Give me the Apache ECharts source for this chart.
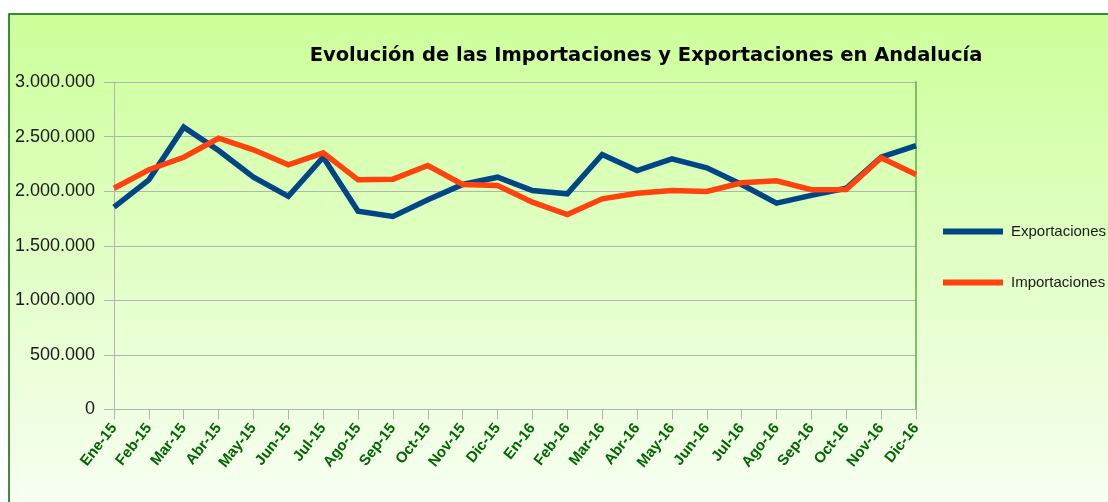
<!DOCTYPE html>
<html>
<head>
<meta charset="utf-8">
<script src="https://cdn.jsdelivr.net/npm/echarts@6/dist/echarts.min.js"></script>
<style>
html,body{margin:0;padding:0;background:#fff;}
#c{width:1108px;height:502px;}
</style>
</head>
<body>
<div id="c"></div>
<script>
const categories = ['Ene-15','Feb-15','Mar-15','Abr-15','May-15','Jun-15','Jul-15','Ago-15','Sep-15','Oct-15','Nov-15','Dic-15','En-16','Feb-16','Mar-16','Abr-16','May-16','Jun-16','Jul-16','Ago-16','Sep-16','Oct-16','Nov-16','Dic-16'];
const exportaciones = [1854000,2104000,2586000,2372000,2128000,1952000,2311000,1817000,1769000,1921000,2061000,2128000,2006000,1976000,2336000,2189000,2296000,2214000,2061000,1890000,1961000,2027000,2311000,2418000];
const importaciones = [2027000,2196000,2311000,2485000,2379000,2242000,2351000,2104000,2110000,2235000,2061000,2052000,1899000,1786000,1930000,1980000,2006000,1997000,2077000,2095000,2013000,2015000,2306000,2153000];
const yTicks = {min: 0, max: 3000000, interval: 500000};
const titleText = 'Evolución de las Importaciones y Exportaciones en Andalucía';

function fmt(v){ return String(v).replace(/\B(?=(\d{3})+(?!\d))/g, '.'); }

const chart = echarts.init(document.getElementById('c'), null, {renderer:'canvas'});
chart.setOption({
  animation: false,
  backgroundColor: '#ffffff',
  graphic: [{
    type: 'rect', z: -100, silent: true,
    shape: {x: 9, y: 14, width: 1105, height: 495},
    style: {
      fill: new echarts.graphic.LinearGradient(0,0,0,1,[
        {offset:0,color:'#ccff99'},
        {offset:1,color:'#f8fff3'}
      ]),
      stroke: '#006600', lineWidth: 1.5
    }
  }],
  title: {
    text: titleText,
    left: 641, top: 41, textAlign: 'center',
    textStyle: {fontFamily:'DejaVu Sans', fontWeight:'bold', fontSize:19.5, color:'#000'}
  },
  legend: {
    orient: 'vertical', left: 938, top: 219,
    itemWidth: 60, itemHeight: 6, itemGap: 36,
    icon: 'rect',
    textStyle: {fontFamily:'Liberation Sans', fontSize:15, color:'#1a1a1a', padding:[0,0,0,3]},
    data: ['Exportaciones','Importaciones']
  },
  grid: {left: 114, right: 192, top: 82, bottom: 92.5, containLabel: false},
  xAxis: {
    type: 'category', data: categories, boundaryGap: false,
    axisLine: {lineStyle: {color:'#b3b3b3', width:1}},
    axisTick: {show:true, length:10, lineStyle:{color:'#b3b3b3'}},
    axisLabel: {rotate:52, margin:16, interval:0, fontFamily:'Liberation Sans', fontWeight:'bold', fontSize:15, color:'#006600'},
    splitLine: {show:false}
  },
  yAxis: [{
    type: 'value', min: yTicks.min, max: yTicks.max, interval: yTicks.interval,
    axisLine: {show:true, lineStyle:{color:'#b3b3b3'}},
    axisTick: {show:true, length:10, lineStyle:{color:'#b3b3b3'}},
    axisLabel: {margin:19, fontFamily:'Liberation Sans', fontSize:18, color:'#1a1a1a', formatter: fmt},
    splitLine: {show:true, lineStyle:{color:'#b3b3b3', width:1}}
  },{
    type: 'value', min: yTicks.min, max: yTicks.max, interval: yTicks.interval, position: 'right',
    axisLine: {show:true, lineStyle:{color:'#5faa4a', width:1.5}},
    axisTick: {show:false}, axisLabel: {show:false}, splitLine: {show:false}
  }],
  series: [{
    name: 'Exportaciones', type: 'line', data: exportaciones,
    showSymbol: false, symbol: 'none',
    lineStyle: {color:'#004586', width:5.5, join:'miter'},
    itemStyle: {color:'#004586'}
  },{
    name: 'Importaciones', type: 'line', data: importaciones,
    showSymbol: false, symbol: 'none',
    lineStyle: {color:'#ff420e', width:5.5, join:'miter'},
    itemStyle: {color:'#ff420e'}
  }]
});
</script>
</body>
</html>
